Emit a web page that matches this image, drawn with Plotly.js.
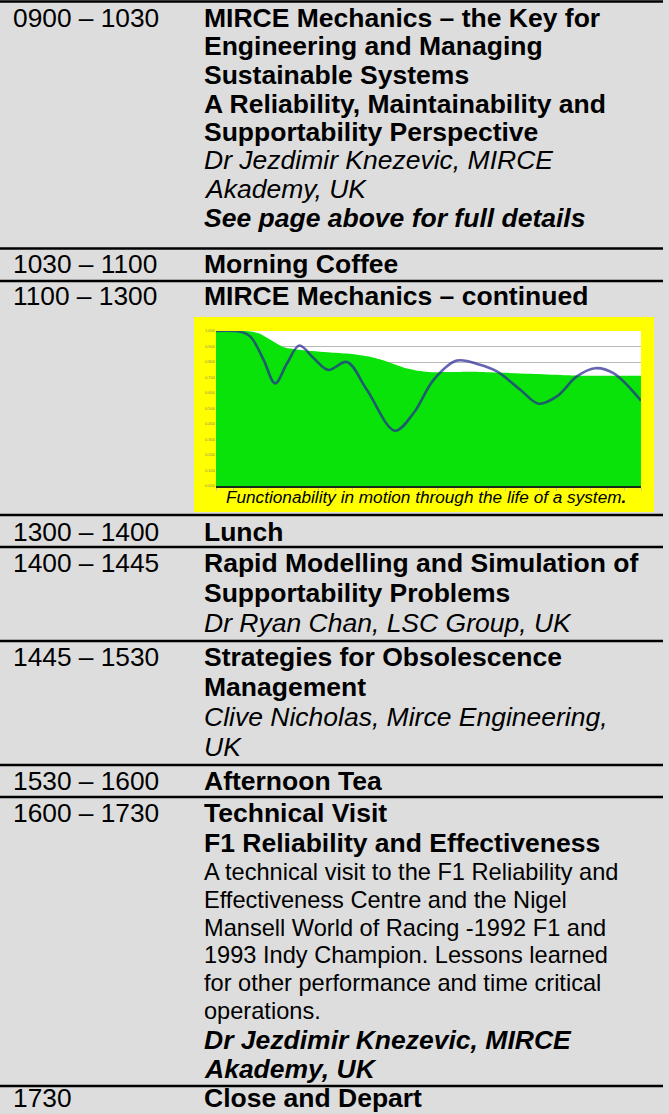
<!DOCTYPE html>
<html>
<head>
<meta charset="utf-8">
<script src="https://cdn.plot.ly/plotly-3.0.1.min.js"></script>
<style>
html,body{margin:0;padding:0;background:#dddddd;}
#chart{width:669px;height:1114px;}
</style>
</head>
<body>
<div id="chart"></div>
<script>
// ---------- schedule content ----------
const times = ['0900 – 1030','1030 – 1100','1100 – 1300','1300 – 1400','1400 – 1445','1445 – 1530','1530 – 1600','1600 – 1730','1730'];

const sessionText = [
  ['<b>MIRCE Mechanics – the Key for</b>','<b>Engineering and Managing</b>','<b>Sustainable Systems</b>',
   '<b>A Reliability, Maintainability and</b>','<b>Supportability Perspective</b>',
   '<i>Dr Jezdimir Knezevic, MIRCE</i>','<i>Akademy, UK</i>','<b><i>See page above for full details</i></b>'],
  ['<b>Morning Coffee</b>'],
  ['<b>MIRCE Mechanics – continued</b>'],
  ['<b>Lunch</b>'],
  ['<b>Rapid Modelling and Simulation of</b>','<b>Supportability Problems</b>','<i>Dr Ryan Chan, LSC Group, UK</i>'],
  ['<b>Strategies for Obsolescence</b>','<b>Management</b>','<i>Clive Nicholas, Mirce Engineering,</i>','<i>UK</i>'],
  ['<b>Afternoon Tea</b>'],
  ['<b>Technical Visit</b>','<b>F1 Reliability and Effectiveness</b>',
   'A technical visit to the F1 Reliability and','Effectiveness Centre and the Nigel',
   'Mansell World of Racing -1992 F1 and','1993 Indy Champion. Lessons learned',
   'for other performance and time critical','operations.',
   '<b><i>Dr Jezdimir Knezevic, MIRCE</i></b>','<b><i>Akademy, UK</i></b>'],
  ['<b>Close and Depart</b>']
];

// ---------- embedded chart data ----------
const chartCaption = '<i>Functionability in motion through the life of a system</i><b><i>.</i></b>';
const lifeTime = [0, 5.7, 8.1, 11.2, 13.9, 16.7, 19.6, 23.0, 26.4, 30.8, 35.5, 42.1, 46.5, 51.2, 56.7, 62.1, 66.1, 71.6, 75.9, 80.2, 84.9, 89.2, 93.5, 100];
const functionability = [1.0, 0.995, 0.964, 0.814, 0.662, 0.79, 0.906, 0.824, 0.749, 0.80, 0.621, 0.357, 0.471, 0.685, 0.809, 0.782, 0.739, 0.621, 0.531, 0.578, 0.707, 0.760, 0.728, 0.55];
const envelopeTime = [0, 7, 10, 13, 16, 20, 27, 32, 36, 40, 45, 50, 55, 60, 66, 74, 82, 90, 100];
const envelope = [1.0, 1.0, 0.985, 0.94, 0.895, 0.878, 0.862, 0.852, 0.835, 0.805, 0.758, 0.735, 0.735, 0.737, 0.732, 0.724, 0.715, 0.711, 0.711];

// ---------- layout (pixel positions) ----------
const W = 669, H = 1114;
const px = x => x / W;
const py = y => 1 - y / H;

const ruleY = [1.5, 248.5, 281, 515, 547, 641, 765, 797, 1086];
const lineY = [
  [18, 46, 75, 104, 132, 160, 189, 218],
  [264],
  [296],
  [532],
  [563, 593, 623],
  [657, 687, 717, 747],
  [781],
  [813, 843, 872, 900, 928, 955, 983, 1011, 1040, 1069],
  [1098]
];
const timeX = 13, textX = 204;
const FONT = 'Liberation Sans, Arial, sans-serif';

const annotations = [];
times.forEach((t, i) => {
  annotations.push({xref:'paper', yref:'paper', x:px(timeX), y:py(lineY[i][0]), xanchor:'left', yanchor:'middle',
    text:t, showarrow:false, borderpad:0, borderwidth:0, font:{family:FONT, size:26.3, color:'#000'}});
});
sessionText.forEach((lines, i) => {
  lines.forEach((s, j) => {
    const plain = s.indexOf('<') < 0;
    annotations.push({xref:'paper', yref:'paper', x:px(textX), y:py(lineY[i][j]), xanchor:'left', yanchor:'middle',
      text:s, showarrow:false, borderpad:0, borderwidth:0,
      font:{family:FONT, size: plain ? 23.6 : 26.5, color:'#000'}});
  });
});
annotations.push({xref:'paper', yref:'paper', x:px(426), y:py(497), xanchor:'center', yanchor:'middle',
  text:chartCaption, showarrow:false, borderpad:0, borderwidth:0, font:{family:FONT, size:17.2, color:'#000'}});

const shapes = [];
// yellow frame and white plot background
shapes.push({type:'rect', xref:'paper', yref:'paper', x0:px(194), x1:px(654), y0:py(512), y1:py(317),
  fillcolor:'#ffff00', line:{width:0}, layer:'below'});
shapes.push({type:'rect', xref:'paper', yref:'paper', x0:px(216), x1:px(641), y0:py(486), y1:py(331),
  fillcolor:'#ffffff', line:{width:0}, layer:'below'});
ruleY.forEach(y => {
  shapes.push({type:'line', xref:'paper', yref:'paper', x0:0, x1:px(663), y0:py(y), y1:py(y),
    line:{color:'#000', width:2.4}, layer:'above'});
});

const traces = [
  {x:envelopeTime, y:envelope, type:'scatter', mode:'lines', fill:'tozeroy', fillcolor:'#0ae30a',
   line:{width:0, shape:'spline', smoothing:0.8, color:'#0ae30a'}, hoverinfo:'skip', showlegend:false},
  {x:lifeTime, y:functionability, type:'scatter', mode:'lines',
   line:{width:2.6, shape:'spline', smoothing:1, color:'rgba(40,40,150,0.72)'}, hoverinfo:'skip', showlegend:false}
];

const layout = {
  width:W, height:H,
  margin:{l:0, r:0, t:0, b:0},
  paper_bgcolor:'#dddddd',
  plot_bgcolor:'rgba(0,0,0,0)',
  showlegend:false,
  xaxis:{domain:[px(216), px(641)], range:[0,100], showgrid:false, zeroline:false,
    showline:true, linecolor:'#1a2a1a', linewidth:2, ticks:'outside', ticklen:3, tickcolor:'#c8c8a0',
    dtick:4, showticklabels:false, fixedrange:true},
  yaxis:{domain:[py(486), py(331)], range:[0,1], dtick:0.1, tickformat:'.3f', showgrid:true,
    gridcolor:'#b8b8b8', gridwidth:1, zeroline:false, showline:false, ticks:'',
    tickfont:{family:FONT, size:4, color:'#8a8a60'}, fixedrange:true},
  annotations:annotations,
  shapes:shapes,
  font:{family:FONT}
};

Plotly.newPlot('chart', traces, layout, {displayModeBar:false, staticPlot:true});
</script>
</body>
</html>
